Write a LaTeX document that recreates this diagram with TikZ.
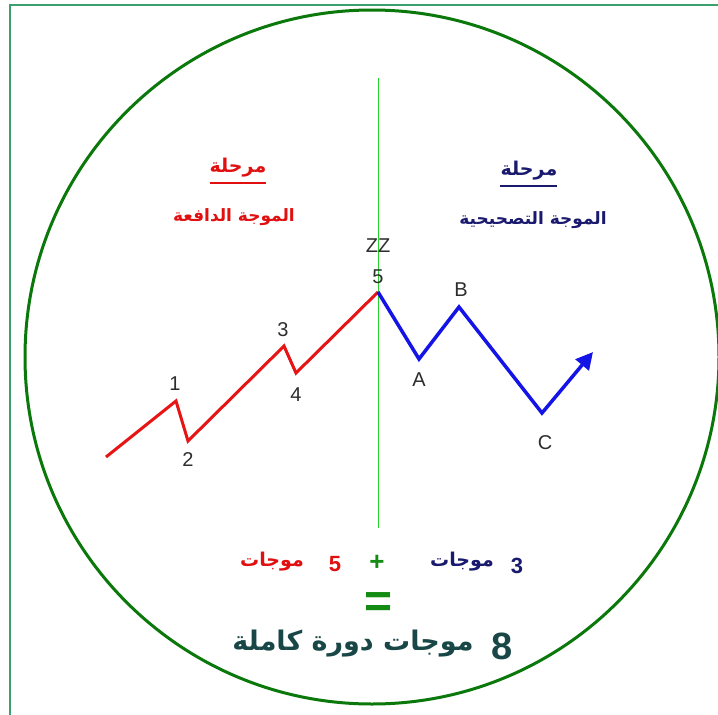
\documentclass[tikz,border=0pt]{standalone}
\usepackage{fontspec}
\usetikzlibrary{arrows.meta}
\setmainfont{Liberation Sans}
\newfontfamily\arabicfont[Script=Arabic]{DejaVu Sans}
\TeXXeTstate=1
\definecolor{framegreen}{RGB}{60,160,110}
\definecolor{circgreen}{RGB}{10,120,10}
\definecolor{vgreen}{RGB}{40,210,40}
\definecolor{wred}{RGB}{230,20,20}
\definecolor{wblue}{RGB}{20,20,230}
\definecolor{navy}{RGB}{25,25,110}
\definecolor{txtred}{RGB}{225,15,15}
\definecolor{eqgreen}{RGB}{20,140,20}
\definecolor{teal}{RGB}{25,70,70}
\definecolor{lblgray}{RGB}{45,45,45}
\tikzset{
  lbl/.style={inner sep=0pt, text=lblgray, font=\fontsize{20}{20}\selectfont},
  artxt/.style={inner sep=0pt, font=\arabicfont\bfseries\fontsize{#1}{#1}\selectfont},
}
\begin{document}
\begin{tikzpicture}[x=1pt,y=-1pt]
\useasboundingbox (0,0) rectangle (718,715);
\fill[white] (0,0) rectangle (718,715);
% frame
\draw[framegreen, line width=1.5pt] (10,715) -- (10,5) -- (718,5);
% circle
\node[circle, draw=circgreen, line width=3pt, minimum size=694pt, inner sep=0pt] (circ) at (372,357) {};
% vertical divider
\coordinate (vtop) at (378,78);
\coordinate (vbot) at (378,528);
\draw[vgreen, line width=1pt] (vtop) -- (vbot);
% wave points
\coordinate (p0) at (106,457);
\coordinate (p1) at (176,401);
\coordinate (p2) at (188,441);
\coordinate (p3) at (284,346);
\coordinate (p4) at (296,373);
\coordinate (p5) at (378,292);
\coordinate (pA) at (419,359);
\coordinate (pB) at (459,307);
\coordinate (pC) at (542,413);
\coordinate (pE) at (593,352);
\draw[wred, line width=3pt, line join=miter] (p0) -- (p1) -- (p2) -- (p3) -- (p4) -- (p5);
\draw[wblue, line width=3.5pt, line join=miter, -{Triangle[length=17pt,width=17pt]}] (p5) -- (pA) -- (pB) -- (pC) -- (pE);
% labels
\node[lbl] (l1) at (175,384) {1};
\node[lbl] (l2) at (188,460) {2};
\node[lbl] (l3) at (283,330) {3};
\node[lbl] (l4) at (296,395) {4};
\node[lbl] (lzz) at (378,246) {ZZ};
\node[lbl] (l5) at (378,277) {5};
\node[lbl] (lB) at (461,290) {B};
\node[lbl] (lA) at (419,380) {A};
\node[lbl] (lC) at (545,443) {C};
% titles
\node[artxt=19, text=txtred] (t1) at (238,168) {\beginR مرحلة\endR};
\draw[txtred, line width=2pt] (210,183) -- (266,183);
\node[artxt=17, text=txtred] (t2) at (234,217) {\beginR الموجة الدافعة\endR};
\node[artxt=19, text=navy] (t3) at (529,171) {\beginR مرحلة\endR};
\draw[navy, line width=2pt] (500,186) -- (557,186);
\node[artxt=17, text=navy] (t4) at (533,220) {\beginR الموجة التصحيحية\endR};
% bottom formula
\node[artxt=19, text=txtred] (m1) at (272,562) {\beginR موجات\endR};
\node[lbl, text=txtred, font=\bfseries\fontsize{22}{22}\selectfont] (n5) at (335,564) {5};
\node[inner sep=0pt, text=eqgreen, font=\bfseries\fontsize{26}{26}\selectfont] (plus) at (377,563) {+};
\node[artxt=19, text=navy] (m2) at (462,562) {\beginR موجات\endR};
\node[lbl, text=navy, font=\bfseries\fontsize{22}{22}\selectfont] (n3) at (517,566) {3};
\node[inner sep=0pt, text=eqgreen, font=\bfseries\fontsize{48}{48}\selectfont] (eq) at (379,605) {=};
\node[artxt=27, text=teal] (full) at (353,644) {\beginR موجات دورة كاملة\endR};
\node[inner sep=0pt, text=teal, font=\bfseries\fontsize{38}{38}\selectfont] (n8) at (502,646) {8};
\end{tikzpicture}
\end{document}
